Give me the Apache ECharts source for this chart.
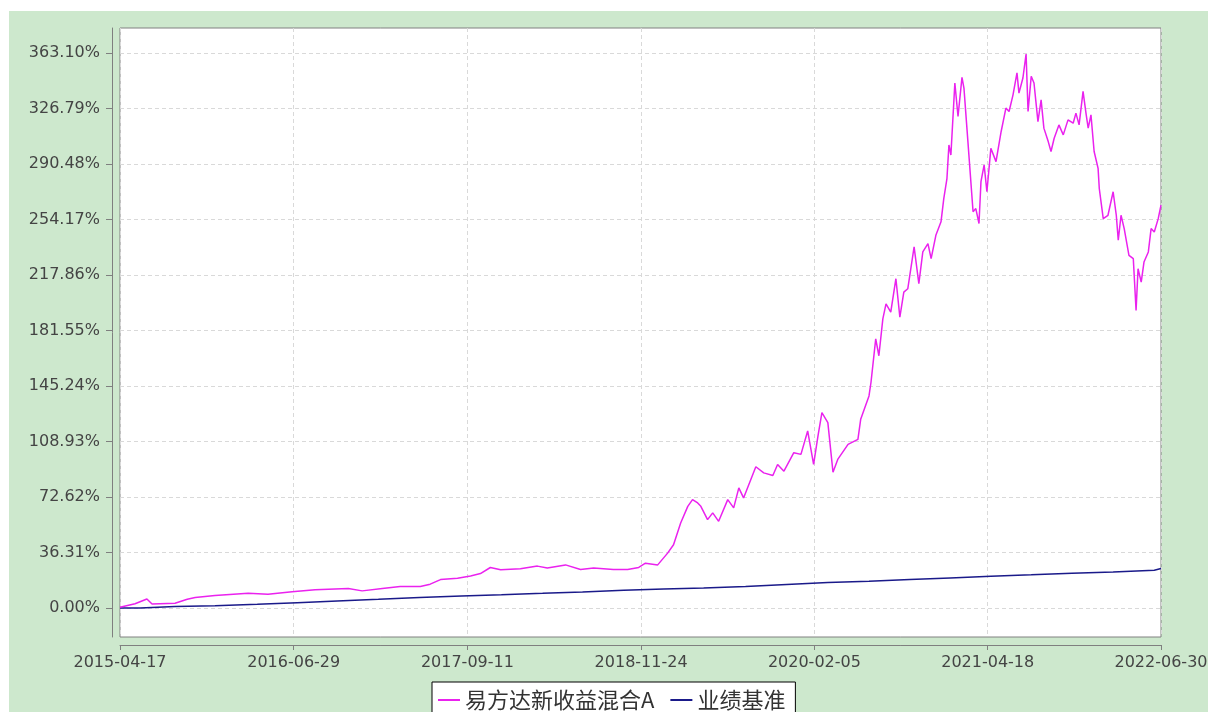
<!DOCTYPE html>
<html>
<head>
<meta charset="utf-8">
<title>易方达新收益混合A</title>
<script src="https://cdn.jsdelivr.net/npm/echarts@6/dist/echarts.min.js"></script>
<style>
  body { margin: 0; background: #ffffff; }
  #main { position: absolute; left: 9px; top: 11px; width: 1199px; height: 701px; background: #cde8cd; }
</style>
</head>
<body>
<div id="main"></div>
<script>
// 累计净值增长率(%)
const fundDates = [
  '2015-04-17', '2015-05-25', '2015-06-24', '2015-07-07', '2015-09-03', '2015-10-04', '2015-10-24', '2015-12-13',
  '2016-03-06', '2016-04-25', '2016-06-25', '2016-08-22', '2016-11-14', '2016-12-19', '2017-02-08', '2017-03-25',
  '2017-05-15', '2017-06-09', '2017-07-05', '2017-08-17', '2017-09-19', '2017-10-14', '2017-11-08', '2017-12-04',
  '2018-01-23', '2018-03-07', '2018-04-01', '2018-05-17', '2018-06-24', '2018-07-27', '2018-09-15', '2018-10-21',
  '2018-11-18', '2018-12-05', '2019-01-05', '2019-01-30', '2019-02-14', '2019-03-04', '2019-03-22', '2019-04-03',
  '2019-04-16', '2019-04-24', '2019-05-11', '2019-05-24', '2019-06-08', '2019-07-01', '2019-07-16', '2019-07-29',
  '2019-08-10', '2019-09-10', '2019-09-30', '2019-10-23', '2019-11-04', '2019-11-20', '2019-12-15', '2020-01-02',
  '2020-01-19', '2020-02-03', '2020-02-14', '2020-02-24', '2020-03-10', '2020-03-23', '2020-04-04', '2020-04-30',
  '2020-05-25', '2020-06-01', '2020-06-22', '2020-06-27', '2020-07-09', '2020-07-17', '2020-07-27', '2020-08-04',
  '2020-08-16', '2020-08-29', '2020-09-08', '2020-09-18', '2020-09-28', '2020-10-14', '2020-10-26', '2020-11-05',
  '2020-11-18', '2020-11-26', '2020-12-08', '2020-12-21', '2020-12-28', '2021-01-05', '2021-01-10', '2021-01-15',
  '2021-01-25', '2021-02-02', '2021-02-12', '2021-02-17', '2021-02-27', '2021-03-12', '2021-03-19', '2021-03-27',
  '2021-04-01', '2021-04-09', '2021-04-16', '2021-04-26', '2021-05-09', '2021-05-22', '2021-06-03', '2021-06-11',
  '2021-06-21', '2021-07-01', '2021-07-06', '2021-07-16', '2021-07-24', '2021-07-29', '2021-08-06', '2021-08-13',
  '2021-08-23', '2021-08-31', '2021-09-07', '2021-09-18', '2021-09-25', '2021-10-03', '2021-10-15', '2021-10-26',
  '2021-11-07', '2021-11-20', '2021-11-27', '2021-12-05', '2021-12-15', '2021-12-23', '2021-12-28', '2022-01-04',
  '2022-01-12', '2022-01-22', '2022-01-25', '2022-02-04', '2022-02-16', '2022-03-01', '2022-03-09', '2022-03-14',
  '2022-03-21', '2022-03-29', '2022-04-10', '2022-04-21', '2022-04-28', '2022-05-03', '2022-05-11', '2022-05-18',
  '2022-05-29', '2022-06-05', '2022-06-13', '2022-06-23', '2022-06-30'
];
const fundValues = [
  0.5, 2.8, 5.9, 2.6, 3.1, 5.7, 6.8, 8.1,
  9.6, 9.0, 10.7, 12.0, 12.7, 11.2, 12.7, 14.0,
  14.0, 15.6, 18.6, 19.5, 21.0, 22.5, 26.5, 25.0,
  25.6, 27.4, 26.1, 28.2, 25.2, 26.1, 25.2, 25.2,
  26.5, 29.3, 28.2, 35.9, 41.4, 55.6, 66.5, 70.9,
  68.7, 66.5, 57.8, 62.2, 56.7, 70.9, 65.5, 78.6,
  72.0, 92.4, 88.4, 86.7, 93.9, 89.5, 101.6, 100.5,
  115.8, 93.9, 112.5, 127.8, 121.3, 88.8, 97.2, 107.0,
  110.3, 123.4, 138.7, 147.5, 176.0, 165.0, 189.1, 198.9,
  193.5, 215.4, 190.2, 206.6, 208.8, 236.2, 212.1, 232.9,
  238.3, 228.5, 243.8, 252.6, 267.8, 280.9, 302.9, 296.3,
  343.4, 321.5, 347.1, 340.1, 305.1, 259.2, 261.3, 251.5,
  278.9, 289.8, 272.3, 300.7, 292.0, 311.7, 327.0, 324.8,
  335.7, 350.0, 336.8, 346.7, 362.4, 324.8, 347.8, 343.4,
  318.2, 332.4, 313.9, 305.1, 298.6, 307.3, 316.0, 309.5,
  319.3, 317.1, 323.7, 316.0, 338.0, 322.6, 313.9, 322.6,
  298.6, 287.6, 274.4, 254.7, 256.9, 272.3, 256.9, 240.6,
  256.9, 248.2, 230.7, 228.5, 194.6, 221.9, 213.2, 226.3,
  232.9, 248.2, 246.0, 254.7, 263.5
];
// 业绩基准增长率(%)
const benchDates = [
  '2015-04-17', '2015-06-07', '2015-09-03', '2015-12-13', '2016-03-29', '2016-07-08', '2016-10-17', '2017-01-29',
  '2017-05-13', '2017-08-27', '2017-12-06', '2018-03-20', '2018-06-29', '2018-10-11', '2019-01-20', '2019-05-01',
  '2019-08-15', '2019-11-27', '2020-03-10', '2020-06-22', '2020-10-03', '2021-01-13', '2021-04-26', '2021-08-06',
  '2021-11-17', '2022-03-01', '2022-06-13', '2022-06-30'
];
const benchValues = [
  0, 0.9, 1.5, 2.4, 3.5, 4.6, 5.7, 6.9,
  7.9, 8.7, 9.6, 10.5, 11.6, 12.5, 13.1, 14.0,
  15.3, 16.6, 17.5, 18.6, 19.7, 20.8, 21.7, 22.8,
  23.6, 24.7, 25.8, 25.8
];
const yTicks = [0, 36.31, 72.62, 108.93, 145.24, 181.55, 217.86, 254.17, 290.48, 326.79, 363.10];
const xTicks = ['2015-04-17', '2016-06-29', '2017-09-11', '2018-11-24', '2020-02-05', '2021-04-18', '2022-06-30'];
const seriesNames = ['易方达新收益混合A', '业绩基准'];

// 日期字符串 -> UTC 时间戳
function toTs(s) {
  const p = s.split('-')
  return Date.UTC(+p[0], +p[1] - 1, +p[2])
}
function fmtDate(ts) {
  const d = new Date(ts)
  const pad = n => (n < 10 ? '0' : '') + n
  return d.getUTCFullYear() + '-' + pad(d.getUTCMonth() + 1) + '-' + pad(d.getUTCDate())
}
const xTickTs = xTicks.map(toTs)

const myChart = echarts.init(document.getElementById('main'))
const labelFont = { fontFamily: 'DejaVu Sans', fontSize: 16, color: '#444444' }
const option = {
  animation: false,
  backgroundColor: 'transparent',
  grid: {
    left: 111,
    top: 17,
    right: 47,
    bottom: 75,
    outerBoundsMode: 'none',
    containLabel: false,
    show: true,
    backgroundColor: '#ffffff',
    borderColor: '#808080',
    borderWidth: 1
  },
  legend: {
    left: 423,
    top: 671,
    orient: 'horizontal',
    padding: [6, 10, 10, 6],
    itemGap: 16,
    itemWidth: 22,
    itemHeight: 2,
    icon: 'rect',
    backgroundColor: '#ffffff',
    borderColor: '#000000',
    borderWidth: 1,
    borderRadius: 0,
    textStyle: { fontFamily: 'Noto Sans CJK SC', fontSize: 22, lineHeight: 24, color: '#333333' },
    data: seriesNames
  },
  xAxis: {
    type: 'value',
    min: xTickTs[0],
    max: xTickTs[xTickTs.length - 1],
    offset: 8,
    axisLine: { show: true, onZero: false, lineStyle: { color: '#7f7f7f', width: 1 } },
    axisTick: { show: true, length: 5, lineStyle: { color: '#7f7f7f' }, customValues: xTickTs },
    axisLabel: {
      ...labelFont,
      margin: 10,
      customValues: xTickTs,
      showMinLabel: true,
      showMaxLabel: true,
      formatter: function (v) { return fmtDate(v) }
    },
    splitLine: { show: true, lineStyle: { color: '#d9d9d9', type: [4, 3] } }
  },
  yAxis: {
    type: 'value',
    min: -18.97,
    max: 379.4,
    offset: 8,
    axisLine: { show: true, lineStyle: { color: '#7f7f7f', width: 1 } },
    axisTick: { show: true, length: 6, lineStyle: { color: '#7f7f7f' }, customValues: yTicks },
    axisLabel: {
      ...labelFont,
      margin: 12,
      customValues: yTicks,
      formatter: function (v) { return v.toFixed(2) + '%' }
    },
    splitLine: { show: true, lineStyle: { color: '#d9d9d9', type: [4, 3] } }
  },
  series: [
    {
      name: seriesNames[0],
      type: 'line',
      data: fundDates.map((d, i) => [toTs(d), fundValues[i]]),
      showSymbol: false,
      symbol: 'none',
      color: '#ea22ee',
      lineStyle: { width: 1.5, color: '#ea22ee' },
      z: 3
    },
    {
      name: seriesNames[1],
      type: 'line',
      step: 'end',
      data: benchDates.map((d, i) => [toTs(d), benchValues[i]]),
      showSymbol: false,
      symbol: 'none',
      color: '#1a1a8a',
      lineStyle: { width: 1.5, color: '#1a1a8a' },
      z: 2
    }
  ]
}
myChart.setOption(option)
</script>
</body>
</html>
